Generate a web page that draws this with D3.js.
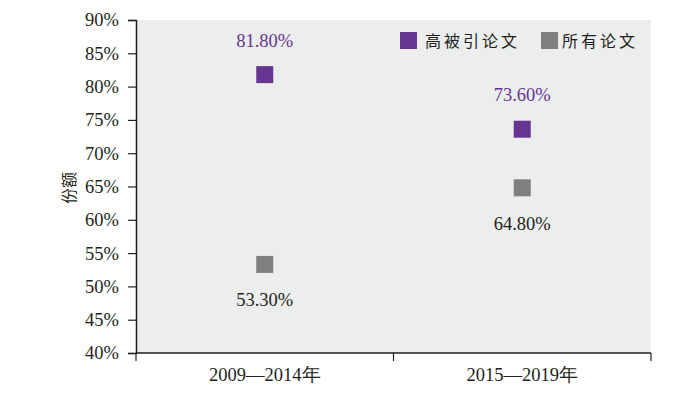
<!DOCTYPE html>
<html>
<head>
<meta charset="utf-8">
<script src="https://cdn.jsdelivr.net/npm/d3@7"></script>
<style>
  body { margin: 0; background: #fff; }
</style>
</head>
<body>
<div id="chart"></div>
<script>
// data
const periods = ['2009—2014年', '2015—2019年'];
const seriesNames = ['高被引论文', '所有论文'];
const highCited = [81.8, 73.6];
const allPapers = [53.3, 64.8];
const yTicks = [40, 45, 50, 55, 60, 65, 70, 75, 80, 85, 90];
const colors = ['#663592', '#7f7f7f'];

const serif = '"Liberation Serif", "Times New Roman", serif';
const cjk = '"Noto Sans CJK SC", sans-serif';

const width = 676, height = 399;
const margin = {top: 20, right: 25, bottom: 46, left: 136};

const svg = d3.select('#chart')
    .append('svg')
    .attr('width', width)
    .attr('height', height);

const x = d3.scaleBand()
    .domain(periods)
    .range([margin.left, width - margin.right]);

const y = d3.scaleLinear()
    .domain([40, 90])
    .range([height - margin.bottom, margin.top]);

// plot background
svg.append('rect')
    .attr('x', margin.left)
    .attr('y', margin.top)
    .attr('width', width - margin.right - margin.left)
    .attr('height', height - margin.bottom - margin.top)
    .attr('fill', '#eceded');

// y axis
const yAxis = svg.append('g')
    .attr('transform', `translate(${margin.left},0)`)
    .call(d3.axisLeft(y).tickValues(yTicks).tickSize(8).tickPadding(9).tickFormat(d => d + '%'));
yAxis.select('.domain').attr('stroke', '#231f20').attr('stroke-width', 1.5);
yAxis.selectAll('.tick line').attr('stroke', '#231f20').attr('stroke-width', 1.2);
yAxis.selectAll('text')
    .style('font-family', serif)
    .style('font-size', '18.5px')
    .style('fill', '#231f20');

// x axis (ticks at band boundaries)
const xBottom = height - margin.bottom;
svg.append('line')
    .attr('x1', margin.left).attr('x2', width - margin.right)
    .attr('y1', xBottom).attr('y2', xBottom)
    .attr('stroke', '#231f20').attr('stroke-width', 1.5);
const bounds = [...periods.map(p => x(p)), x(periods[periods.length - 1]) + x.bandwidth()];
svg.selectAll('.xtick')
    .data(bounds)
    .enter()
    .append('line')
    .attr('x1', d => d).attr('x2', d => d)
    .attr('y1', xBottom).attr('y2', xBottom + 8)
    .attr('stroke', '#231f20').attr('stroke-width', 1.2);
svg.selectAll('.xlabel')
    .data(periods)
    .enter()
    .append('text')
    .attr('x', d => x(d) + x.bandwidth() / 2)
    .attr('y', xBottom + 28)
    .attr('text-anchor', 'middle')
    .style('font-family', serif)
    .style('font-size', '18.5px')
    .style('fill', '#231f20')
    .text(d => d);

// y title
svg.append('text')
    .attr('transform', `translate(75,188) rotate(-90)`)
    .attr('text-anchor', 'middle')
    .style('font-family', cjk)
    .style('font-size', '16px')
    .style('fill', '#231f20')
    .text('份额');

// markers + labels
const sz = 17;
const series = [highCited, allPapers];
series.forEach((vals, si) => {
    svg.selectAll('.m' + si)
        .data(vals)
        .enter()
        .append('rect')
        .attr('x', (d, i) => x(periods[i]) + x.bandwidth() / 2 - sz / 2)
        .attr('y', d => y(d) - sz / 2)
        .attr('width', sz)
        .attr('height', sz)
        .attr('fill', colors[si]);

    svg.selectAll('.l' + si)
        .data(vals)
        .enter()
        .append('text')
        .attr('x', (d, i) => x(periods[i]) + x.bandwidth() / 2)
        .attr('y', d => si === 0 ? y(d) - 28 : y(d) + 42)
        .attr('text-anchor', 'middle')
        .style('font-family', serif)
        .style('font-size', '18.5px')
        .style('fill', si === 0 ? '#663592' : '#231f20')
        .text(d => d.toFixed(2) + '%');
});

// legend
const legendX = [400, 541];
seriesNames.forEach((name, i) => {
    svg.append('rect')
        .attr('x', legendX[i]).attr('y', 32)
        .attr('width', 17).attr('height', 17)
        .attr('fill', colors[i]);
    svg.append('text')
        .attr('x', legendX[i] + (i === 0 ? 25 : 21))
        .attr('y', 47)
        .style('font-family', cjk)
        .style('font-size', '16px')
        .style('letter-spacing', '3px')
        .style('fill', '#231f20')
        .text(name);
});
</script>
</body>
</html>
